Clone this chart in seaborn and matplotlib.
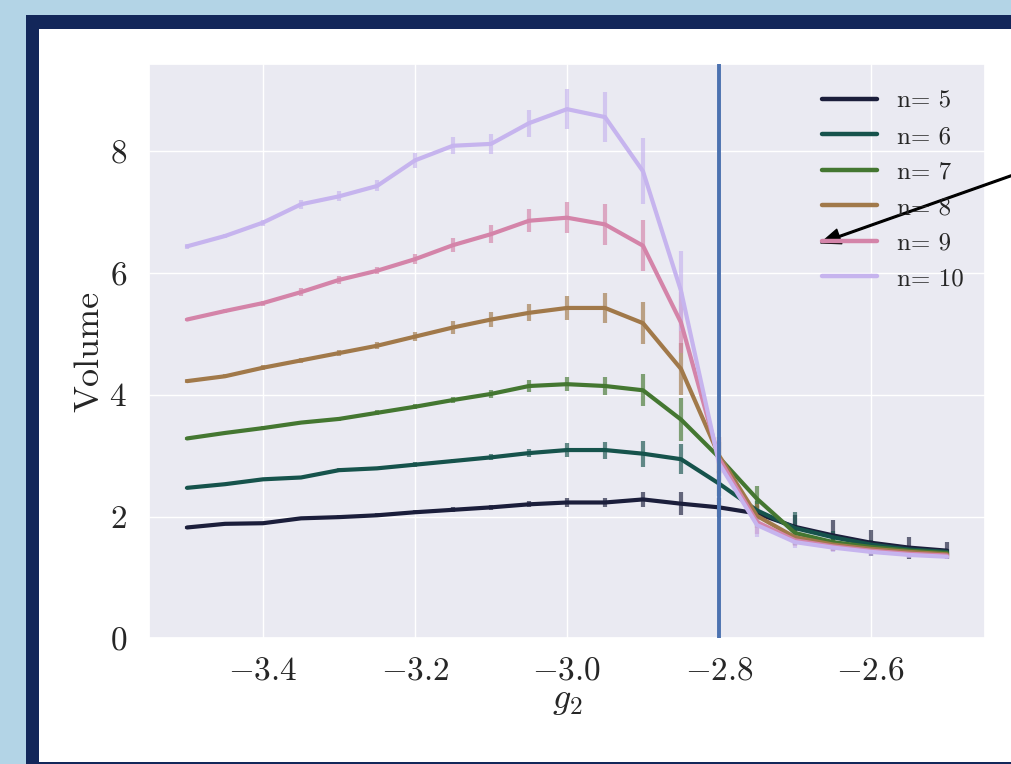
import numpy as np
import pandas as pd
import matplotlib
matplotlib.use("Agg")
import matplotlib.pyplot as plt
from matplotlib.patches import Rectangle
import seaborn as sns

# ---------------- data ----------------
g2 = [-3.50, -3.45, -3.40, -3.35, -3.30, -3.25, -3.20, -3.15, -3.10, -3.05, -3.00,
      -2.95, -2.90, -2.85, -2.80, -2.75, -2.70, -2.65, -2.60, -2.55, -2.50]

labels = ["n= 5", "n= 6", "n= 7", "n= 8", "n= 9", "n= 10"]

vol_n5 = [1.82, 1.88, 1.89, 1.97, 1.99, 2.02, 2.07, 2.11, 2.15, 2.20, 2.23,
          2.23, 2.28, 2.21, 2.15, 2.05, 1.83, 1.69, 1.57, 1.49, 1.44]
vol_n6 = [2.47, 2.53, 2.61, 2.64, 2.76, 2.79, 2.85, 2.91, 2.97, 3.04, 3.09,
          3.09, 3.03, 2.94, 2.54, 2.10, 1.81, 1.66, 1.54, 1.46, 1.42]
vol_n7 = [3.28, 3.37, 3.45, 3.54, 3.60, 3.70, 3.80, 3.91, 4.01, 4.14, 4.17,
          4.14, 4.07, 3.59, 2.97, 2.29, 1.73, 1.58, 1.50, 1.44, 1.40]
vol_n8 = [4.22, 4.30, 4.44, 4.56, 4.68, 4.80, 4.95, 5.10, 5.23, 5.34, 5.42,
          5.42, 5.17, 4.42, 3.00, 2.01, 1.66, 1.54, 1.47, 1.42, 1.38]
vol_n9 = [5.23, 5.37, 5.50, 5.68, 5.88, 6.03, 6.22, 6.45, 6.63, 6.85, 6.90,
          6.79, 6.44, 5.18, 2.95, 1.91, 1.61, 1.51, 1.44, 1.39, 1.36]
vol_n10 = [6.43, 6.60, 6.82, 7.12, 7.25, 7.42, 7.84, 8.08, 8.11, 8.45, 8.68,
           8.55, 7.66, 5.70, 2.87, 1.86, 1.58, 1.49, 1.42, 1.37, 1.34]

err_n5 = [0.02, 0.02, 0.02, 0.03, 0.03, 0.03, 0.03, 0.04, 0.04, 0.05, 0.08,
          0.08, 0.13, 0.19, 0.15, 0.12, 0.20, 0.25, 0.21, 0.18, 0.14]
err_n6 = [0.02, 0.02, 0.02, 0.03, 0.03, 0.03, 0.04, 0.04, 0.05, 0.06, 0.11,
          0.14, 0.21, 0.25, 0.20, 0.15, 0.27, 0.10, 0.08, 0.06, 0.05]
err_n7 = [0.02, 0.02, 0.03, 0.03, 0.03, 0.04, 0.04, 0.05, 0.07, 0.10, 0.12,
          0.14, 0.26, 0.35, 0.25, 0.21, 0.10, 0.08, 0.06, 0.05, 0.04]
err_n8 = [0.03, 0.03, 0.04, 0.04, 0.05, 0.06, 0.07, 0.10, 0.12, 0.14, 0.20,
          0.25, 0.34, 0.42, 0.30, 0.20, 0.10, 0.07, 0.06, 0.05, 0.04]
err_n9 = [0.03, 0.03, 0.04, 0.06, 0.06, 0.06, 0.08, 0.12, 0.15, 0.19, 0.25,
          0.33, 0.42, 0.50, 0.35, 0.20, 0.10, 0.07, 0.06, 0.05, 0.04]
err_n10 = [0.04, 0.04, 0.05, 0.07, 0.08, 0.09, 0.12, 0.14, 0.17, 0.22, 0.33,
           0.41, 0.54, 0.65, 0.40, 0.20, 0.10, 0.07, 0.06, 0.05, 0.04]

vols = [vol_n5, vol_n6, vol_n7, vol_n8, vol_n9, vol_n10]
errs = [err_n5, err_n6, err_n7, err_n8, err_n9, err_n10]
critical_g2 = -2.8

# ---------------- style ----------------
sns.set_theme(style="darkgrid")
plt.rcParams["font.family"] = "serif"
plt.rcParams["font.serif"] = ["cmr10", "DejaVu Serif"]
plt.rcParams["mathtext.fontset"] = "cm"
plt.rcParams["axes.formatter.use_mathtext"] = True
plt.rcParams["axes.unicode_minus"] = True

palette = sns.color_palette("cubehelix", 7)[:6]

df = pd.DataFrame({
    "g2": np.tile(g2, len(labels)),
    "Volume": np.concatenate(vols),
    "err": np.concatenate(errs),
    "n": np.repeat(labels, len(g2)),
})

fig = plt.figure(figsize=(10.11, 7.64), dpi=100)
fig.patch.set_facecolor("#b3d4e6")
fig.add_artist(Rectangle((0.0255, 0.0), 1.0, 0.9804, transform=fig.transFigure,
                         facecolor="#13275a", edgecolor="none", zorder=-10))
fig.add_artist(Rectangle((0.0383, 0.0022), 1.0, 0.9594, transform=fig.transFigure,
                         facecolor="white", edgecolor="none", zorder=-9))

ax = fig.add_axes([0.1474, 0.1643, 0.8269, 0.7519])

for lab, col in zip(labels, palette):
    sub = df[df["n"] == lab]
    ax.errorbar(sub["g2"], sub["Volume"], yerr=sub["err"], fmt="none",
                ecolor=col, elinewidth=3.0, alpha=0.65, capsize=0, zorder=1.8)

sns.lineplot(data=df, x="g2", y="Volume", hue="n", hue_order=labels,
             palette=palette, linewidth=3.0, ax=ax, legend="auto", zorder=2)

ax.axvline(critical_g2, color="#4c72b0", linewidth=2.8, zorder=3)

ax.set_xlim(-3.55, -2.45)
ax.set_ylim(0, 9.42)
ax.set_xticks([-3.4, -3.2, -3.0, -2.8, -2.6])
ax.set_yticks([0, 2, 4, 6, 8])
ax.tick_params(axis="both", labelsize=24, pad=10)
ax.tick_params(axis="x", pad=7)
ax.set_xlabel(r"$g_2$", fontsize=26, labelpad=0)
ax.set_ylabel("Volume", fontsize=26, labelpad=3)

old = ax.get_legend()
handles = old.legend_handles
for h in handles:
    h.set_linewidth(3.2)
ax.legend(handles, labels, loc="upper left", bbox_to_anchor=(0.793, 0.972),
          frameon=False, fontsize=18, handlelength=2.2, handletextpad=0.8,
          labelspacing=0.52, borderaxespad=0.0)

ax.annotate("", xy=(0.812, 0.682), xycoords="figure fraction",
            xytext=(1.06, 0.798), textcoords="figure fraction",
            arrowprops=dict(facecolor="black", edgecolor="black", width=1.2,
                            headwidth=11, headlength=14, shrink=0.0),
            annotation_clip=False)

fig.savefig("out.png", dpi=100, facecolor=fig.get_facecolor())
